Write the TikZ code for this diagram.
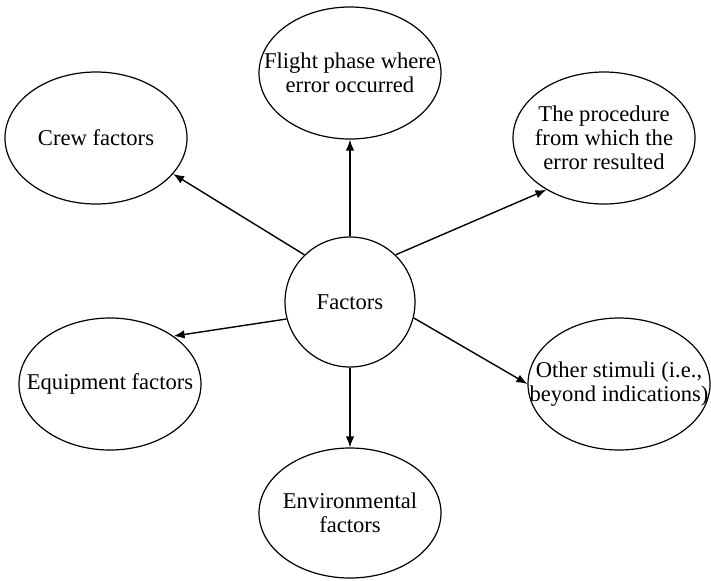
\documentclass[tikz,border=0pt]{standalone}
\usepackage{fontspec}
\setmainfont{Liberation Serif}
\usetikzlibrary{shapes.geometric,arrows.meta}

\begin{document}
\begin{tikzpicture}[
    x=0.5pt, y=-0.5pt,
    hub/.style={circle, draw, line width=0.6pt, minimum size=65pt, inner sep=0pt, font=\fontsize{11.3}{12}\selectfont},
    factor/.style={ellipse, draw, line width=0.6pt, minimum width=91pt, minimum height=66pt, inner xsep=-30pt, inner ysep=-12pt, align=center, font=\fontsize{11.3}{12}\selectfont},
    arrow/.style={-{Latex[length=5.5pt,width=4.2pt]}, line width=0.7pt}
]
    \useasboundingbox (0,0) rectangle (711,580);

    % Components
    \node[hub] (factors) at (350,302) {Factors};
    \node[factor] (phase) at (350,73) {Flight phase where\\error occurred};
    \node[factor] (crew) at (96,138) {Crew factors};
    \node[factor] (procedure) at (604,138) {The procedure\\from which the\\error resulted};
    \node[factor] (equipment) at (110,384) {Equipment factors};
    \node[factor] (stimuli) at (619,384) {Other stimuli (i.e.,\\beyond indications)};
    \node[factor, minimum height=65pt] (environment) at (350,513) {Environmental\\factors};

    % Arrows
    \draw[arrow] (factors.90) -- (phase.270);
    \draw[arrow] (factors.134) -- (crew.335);
    \draw[arrow] (factors.46) -- (procedure.222);
    \draw[arrow] (factors.195) -- (equipment.37);
    \draw[arrow] (factors.346) -- (stimuli.180);
    \draw[arrow] (factors.270) -- (environment.90);
\end{tikzpicture}
\end{document}
